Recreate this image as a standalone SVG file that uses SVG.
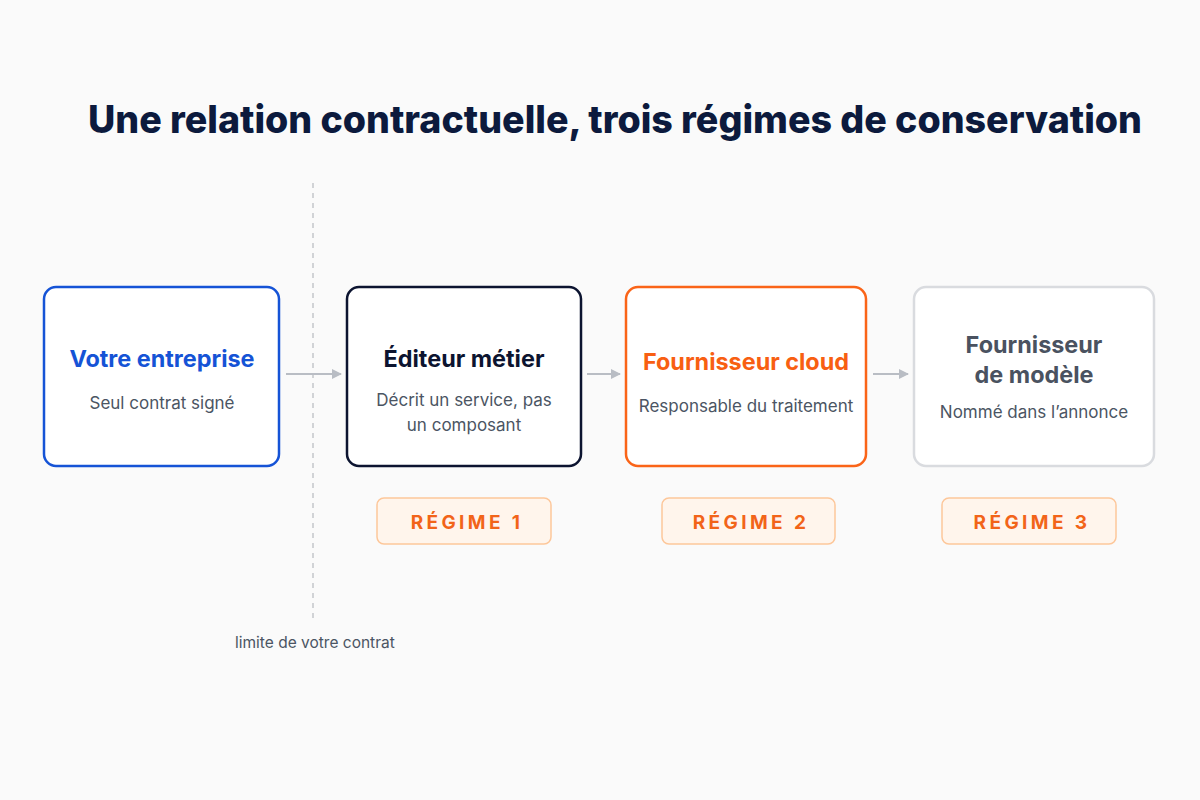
<svg xmlns="http://www.w3.org/2000/svg" width="1200" height="800" viewBox="0 0 1200 800">
<defs>
<style>
.title{font-family:Inter,"Noto Sans",sans-serif;font-weight:800;font-size:38px;fill:#0c1a3d}
.box{fill:#ffffff;stroke-width:2.5}
.ht{font-family:Inter,"Noto Sans",sans-serif;font-weight:700;font-size:23.4px;text-anchor:middle}
.sub{font-family:Inter,"Noto Sans",sans-serif;font-weight:400;font-size:17px;fill:#4b5563;text-anchor:middle}
.pill{fill:#fff5ec;stroke:#fdc79a;stroke-width:1.5}
.pt{font-family:Inter,"Noto Sans",sans-serif;font-weight:700;font-size:19px;fill:#f26419;text-anchor:middle;letter-spacing:3.4px}
.conn{stroke:#b9bdc4;stroke-width:2;fill:none}
.note{font-family:Inter,"Noto Sans",sans-serif;font-size:15.5px;fill:#4b5563}
</style>
<marker id="arr" viewBox="0 0 10 10" refX="9" refY="5" markerWidth="5" markerHeight="5" orient="auto" markerUnits="strokeWidth">
<path d="M0,0 L10,5 L0,10 z" fill="#b9bdc4"/>
</marker>
</defs>
<rect width="1200" height="800" fill="#fafafa"/>
<text class="title" x="88" y="133" textLength="1054" lengthAdjust="spacingAndGlyphs">Une relation contractuelle, trois régimes de conservation</text>

<g id="boundary">
<line x1="313" y1="183" x2="313" y2="622" stroke="#c4c6ca" stroke-width="1.5" stroke-dasharray="5 5"/>
<text class="note" x="235" y="648">limite de votre contrat</text>
</g>

<g id="connectors">
<line class="conn" x1="286" y1="374" x2="341" y2="374" marker-end="url(#arr)"/>
<line class="conn" x1="587" y1="374" x2="620" y2="374" marker-end="url(#arr)"/>
<line class="conn" x1="873" y1="374" x2="908" y2="374" marker-end="url(#arr)"/>
</g>

<g id="entreprise">
<rect class="box" x="44" y="287" width="235" height="179" rx="12" stroke="#1553d6"/>
<text class="ht" x="162" y="367" fill="#1553d6">Votre entreprise</text>
<text class="sub" x="162" y="409">Seul contrat signé</text>
</g>

<g id="editeur">
<rect class="box" x="347" y="287" width="234" height="179" rx="12" stroke="#0c1430"/>
<text class="ht" x="464" y="367" fill="#0c1430">Éditeur métier</text>
<text class="sub" x="464" y="406">Décrit un service, pas</text>
<text class="sub" x="464" y="431">un composant</text>
</g>

<g id="cloud">
<rect class="box" x="626" y="287" width="240" height="179" rx="12" stroke="#fa6418"/>
<text class="ht" x="746" y="370" fill="#f85f12">Fournisseur cloud</text>
<text class="sub" x="746" y="412">Responsable du traitement</text>
</g>

<g id="modele">
<rect class="box" x="914" y="287" width="240" height="179" rx="12" stroke="#d9dbdf"/>
<text class="ht" x="1034" y="353" fill="#4a5260">Fournisseur</text>
<text class="ht" x="1034" y="383" fill="#4a5260">de modèle</text>
<text class="sub" x="1034" y="418">Nommé dans l’annonce</text>
</g>

<g id="regime1">
<rect class="pill" x="377" y="498" width="174" height="46" rx="7"/>
<text class="pt" x="467" y="529">RÉGIME 1</text>
</g>
<g id="regime2">
<rect class="pill" x="662" y="498" width="173" height="46" rx="7"/>
<text class="pt" x="751" y="529">RÉGIME 2</text>
</g>
<g id="regime3">
<rect class="pill" x="942" y="498" width="174" height="46" rx="7"/>
<text class="pt" x="1032" y="529">RÉGIME 3</text>
</g>
</svg>
